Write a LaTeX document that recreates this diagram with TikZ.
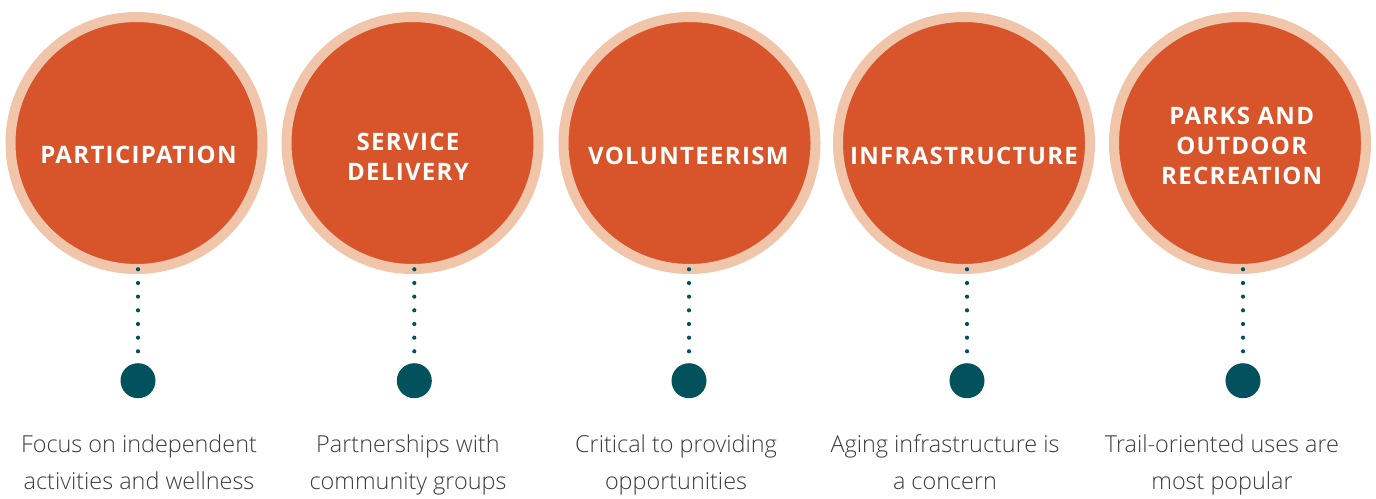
\documentclass[tikz,border=0pt]{standalone}
\usepackage{fontspec}
\setmainfont{Open Sans}
\newfontfamily\capfont{Open Sans Light}
\newfontfamily\titlefont{Open Sans}[LetterSpace=5.5]
\definecolor{ringc}{HTML}{F0C5A9}
\definecolor{corec}{HTML}{D8542A}
\definecolor{tealc}{HTML}{01525C}
\definecolor{capc}{HTML}{3C3C3C}
\begin{document}
\begin{tikzpicture}[x=1pt,y=-1pt,
  topic/.style={circle, fill=corec, draw=ringc, line width=10pt, minimum size=252pt, inner sep=0pt},
  title/.style={text=white, font=\titlefont\bfseries\fontsize{24}{30}\selectfont, align=center, inner sep=0pt},
  marker/.style={circle, fill=tealc, minimum size=35pt, inner sep=0pt},
  dots/.style={tealc, line width=4.2pt, line cap=round, dash pattern=on 0pt off 13.67pt},
  caption/.style={text=capc, font=\capfont\fontsize{23.4}{36.6}\selectfont, align=center, inner sep=0pt, anchor=base}]
\useasboundingbox (0,0) rectangle (1376,498);
% circles
\node[topic] (c1) at (136.5,143) {};
\node[topic] (c2) at (412.5,143) {};
\node[topic] (c3) at (689.5,143) {};
\node[topic] (c4) at (964,143) {};
\node[topic] (c5) at (1240,143) {};
% titles
\node[title] (t1) at (138.5,155.3) {PARTICIPATION};
\node[title] (t2) at (408,156.5) {SERVICE\\DELIVERY};
\node[title] (t3) at (688.3,156.3) {VOLUNTEERISM};
\node[title] (t4) at (964,156.3) {INFRASTRUCTURE};
\node[title] (t5) at (1241.7,145.7) {PARKS AND\\OUTDOOR\\RECREATION};
% markers
\node[marker] (m1) at (138,380.7) {};
\node[marker] (m2) at (414.3,380.7) {};
\node[marker] (m3) at (689,380.7) {};
\node[marker] (m4) at (967,380.7) {};
\node[marker] (m5) at (1243,380.7) {};
% dotted connectors
\coordinate (s1) at (138,269.3);
\coordinate (s2) at (414.3,269.3);
\coordinate (s3) at (689,269.3);
\coordinate (s4) at (967,269.3);
\coordinate (s5) at (1243,269.3);
\draw[dots] (s1) -- (m1);
\draw[dots] (s2) -- (m2);
\draw[dots] (s3) -- (m3);
\draw[dots] (s4) -- (m4);
\draw[dots] (s5) -- (m5);
% captions (anchor = baseline of last line)
\node[caption] (d1) at (139,489.3) {Focus on independent\\activities and wellness};
\node[caption] (d2) at (408,489.3) {Partnerships with\\community groups};
\node[caption] (d3) at (676,489.3) {Critical to providing\\opportunities};
\node[caption] (d4) at (945,489.3) {Aging infrastructure is\\a concern};
\node[caption] (d5) at (1222,489.3) {Trail-oriented uses are\\most popular};
\end{tikzpicture}
\end{document}
